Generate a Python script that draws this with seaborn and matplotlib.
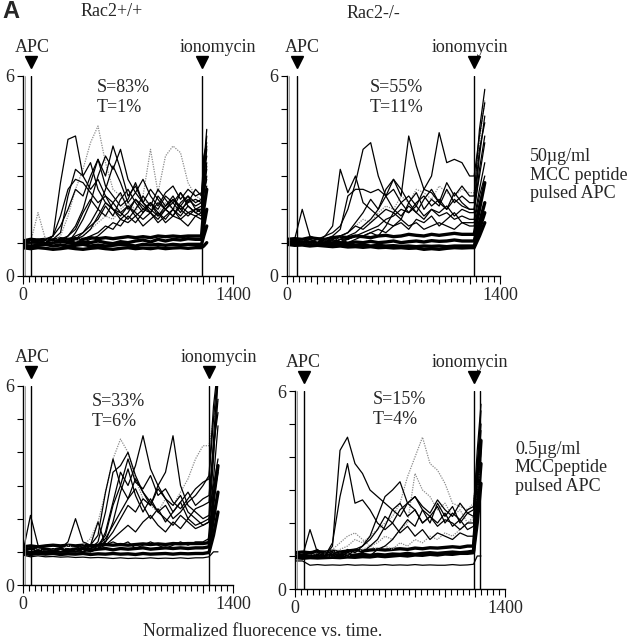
"""Calcium traces of Rac2+/+ and Rac2-/- T cells after APC contact."""

import pandas as pd
import matplotlib
matplotlib.use("Agg")
import matplotlib.pyplot as plt
import matplotlib.transforms as mtransforms
from matplotlib.ticker import MultipleLocator, FuncFormatter
import seaborn as sns

# ---- data: time grids (s) and ratio traces, one list per cell ----
TIME_WT_HIGH = [0, 50, 100, 150, 200, 250, 300, 350, 400, 450, 500, 550,
                600, 650, 700, 750, 800, 850, 900, 950, 1000, 1050, 1100,
                1150, 1190, 1205, 1225]
WT_HIGH_ACTIVE = [
  [1.0, 1.1, 1.0, 1.1, 1.2, 2.8, 4.1, 4.2, 3.0, 3.4, 2.6, 2.2, 2.0, 1.9, 2.1, 1.8, 2.0, 1.9, 2.2, 2.0, 1.8, 2.1, 1.9, 2.0, 2.0, 3.0, 3.6],
  [1.0, 1.0, 1.1, 1.0, 1.1, 1.3, 2.4, 3.2, 3.0, 2.6, 2.9, 2.4, 2.2, 2.5, 2.0, 2.3, 2.1, 1.9, 2.4, 2.1, 2.3, 2.0, 2.2, 2.3, 2.2, 3.3, 4.4],
  [1.0, 1.1, 1.0, 1.0, 1.1, 1.0, 1.2, 1.5, 2.0, 2.8, 3.5, 3.0, 3.9, 3.2, 2.4, 2.7, 2.2, 2.0, 1.8, 2.1, 2.4, 2.0, 1.8, 2.0, 1.9, 2.6, 3.2],
  [1.0, 1.0, 1.1, 1.0, 1.0, 1.1, 1.0, 1.3, 1.7, 2.2, 3.0, 3.6, 3.2, 3.8, 2.9, 2.5, 2.2, 2.6, 2.3, 2.0, 2.2, 2.5, 2.1, 1.9, 1.8, 2.4, 3.0],
  [1.0, 1.0, 1.0, 1.1, 1.2, 1.5, 2.0, 2.6, 2.4, 3.0, 3.5, 2.7, 2.4, 2.1, 2.3, 2.8, 2.2, 1.9, 1.7, 2.0, 1.8, 2.2, 2.4, 2.0, 2.1, 2.9, 3.8],
  [1.0, 1.0, 1.0, 1.0, 1.0, 1.1, 1.0, 1.1, 1.3, 1.6, 2.0, 1.8, 2.2, 1.9, 1.7, 2.0, 2.4, 2.1, 2.6, 2.3, 2.0, 2.5, 2.2, 2.6, 2.4, 3.6, 4.0],
  [1.0, 1.0, 1.0, 1.0, 1.0, 1.0, 1.1, 1.0, 1.1, 1.2, 1.3, 1.5, 1.4, 1.7, 1.6, 1.8, 1.5, 1.7, 1.9, 1.6, 1.8, 1.7, 1.5, 1.8, 1.7, 2.2, 2.7],
  [1.0, 1.0, 1.1, 1.0, 1.2, 1.8, 2.6, 2.9, 2.8, 2.5, 2.2, 2.4, 2.0, 1.8, 2.1, 1.9, 1.7, 1.9, 1.6, 1.8, 2.0, 1.7, 1.9, 1.8, 1.9, 2.5, 2.9],
  [1.0, 1.0, 1.0, 1.0, 1.0, 1.1, 1.2, 1.4, 1.9, 2.3, 2.0, 2.6, 3.3, 2.8, 2.2, 2.5, 2.9, 2.4, 2.1, 2.5, 2.7, 2.3, 2.6, 2.4, 2.5, 3.2, 4.2],
  [1.0, 1.1, 1.0, 1.0, 1.1, 1.0, 1.1, 1.2, 1.3, 1.5, 1.7, 2.1, 1.8, 2.3, 2.6, 2.2, 1.9, 2.2, 2.0, 2.4, 2.2, 1.9, 2.3, 2.1, 2.2, 2.8, 3.4],
  [1.0, 1.0, 1.0, 1.0, 1.0, 1.0, 1.0, 1.1, 1.2, 1.4, 1.8, 2.2, 2.0, 1.7, 1.9, 2.3, 2.0, 2.2, 1.8, 2.0, 2.3, 2.1, 2.4, 2.2, 2.3, 3.0, 3.9],
  [1.0, 1.0, 1.0, 1.0, 1.0, 1.0, 1.1, 1.0, 1.0, 1.1, 1.2, 1.4, 1.6, 1.5, 1.8, 1.6, 1.9, 2.2, 1.9, 1.7, 2.0, 1.8, 2.1, 1.9, 2.0, 2.6, 3.3],
]
WT_HIGH_FAINT = [
  [1.0, 1.0, 1.9, 1.1, 1.0, 1.2, 1.8, 2.6, 3.2, 4.0, 4.5, 3.4, 2.6, 2.4, 2.2, 2.0, 2.3, 2.1, 1.9, 2.2, 2.0, 2.1, 1.9, 2.0, 2.0, 2.5, 3.0],
  [1.0, 1.0, 1.0, 1.0, 1.0, 1.0, 1.1, 1.0, 1.2, 1.4, 1.6, 1.8, 1.7, 2.0, 2.2, 1.9, 2.4, 3.8, 2.5, 3.6, 3.9, 3.7, 2.8, 2.4, 2.3, 2.8, 3.2],
]
WT_HIGH_RESTING = [
  [1.0, 1.05, 1.0, 0.95, 1.0, 1.05, 1.0, 0.98, 1.02, 1.0, 1.05, 1.0, 0.97, 1.03, 1.0, 1.05, 1.08, 1.02, 1.1, 1.05, 1.1, 1.08, 1.12, 1.1, 1.1, 1.5, 2.0],
  [0.92, 0.9, 0.92, 0.95, 0.9, 0.93, 0.9, 0.92, 0.95, 0.9, 0.93, 0.9, 0.92, 0.95, 0.93, 0.9, 0.95, 0.93, 0.95, 0.92, 0.95, 0.93, 0.95, 0.95, 0.95, 1.2, 1.5],
  [1.05, 1.1, 1.08, 1.1, 1.08, 1.12, 1.1, 1.12, 1.1, 1.15, 1.12, 1.15, 1.12, 1.15, 1.18, 1.15, 1.18, 1.15, 1.2, 1.18, 1.2, 1.18, 1.2, 1.2, 1.2, 2.0, 2.6],
  [0.85, 0.82, 0.85, 0.83, 0.8, 0.82, 0.85, 0.82, 0.8, 0.83, 0.85, 0.82, 0.8, 0.83, 0.85, 0.82, 0.84, 0.82, 0.85, 0.82, 0.84, 0.85, 0.83, 0.85, 0.85, 0.9, 1.0],
]

TIME_KO_HIGH = [0, 50, 100, 150, 200, 250, 300, 350, 400, 450, 500, 550,
                600, 650, 700, 750, 800, 850, 900, 950, 1000, 1050, 1100,
                1150, 1200, 1230, 1265, 1300]
KO_HIGH_ACTIVE = [
  [1.0, 1.1, 2.0, 1.2, 1.1, 1.2, 1.5, 3.2, 2.5, 3.0, 2.2, 2.0, 1.8, 1.6, 1.5, 1.7, 1.5, 1.6, 1.4, 1.5, 1.6, 1.5, 1.4, 1.6, 1.5, 1.5, 2.2, 2.8],
  [1.0, 1.0, 1.0, 1.1, 1.0, 1.2, 1.3, 1.5, 2.0, 2.8, 3.8, 4.0, 3.0, 2.4, 2.6, 2.2, 1.9, 2.1, 1.8, 2.0, 1.9, 2.1, 1.8, 2.0, 1.9, 1.9, 3.2, 4.2],
  [1.0, 1.0, 1.1, 1.0, 1.0, 1.1, 1.0, 1.2, 1.3, 1.6, 1.9, 2.3, 2.0, 2.6, 2.9, 2.4, 4.2, 3.3, 2.6, 2.5, 2.2, 2.0, 2.3, 2.1, 2.0, 2.0, 3.6, 4.8],
  [1.0, 1.0, 1.0, 1.0, 1.1, 1.0, 1.1, 1.2, 1.3, 1.5, 1.4, 1.6, 1.8, 2.0, 1.9, 2.2, 2.4, 2.1, 2.6, 3.0, 4.3, 3.4, 3.5, 3.4, 3.0, 3.0, 4.2, 5.2],
  [1.0, 1.0, 1.0, 1.1, 1.0, 1.1, 1.2, 1.4, 2.4, 2.6, 2.6, 2.5, 2.6, 2.4, 2.0, 1.8, 2.1, 1.9, 1.7, 2.0, 1.8, 1.9, 1.7, 1.8, 1.7, 1.7, 2.6, 3.4],
  [1.0, 1.0, 1.0, 1.0, 1.0, 1.1, 1.0, 1.1, 1.2, 1.3, 1.5, 1.7, 2.0, 2.4, 2.9, 2.6, 2.2, 2.5, 2.0, 2.3, 2.1, 2.6, 2.2, 2.4, 2.2, 2.2, 3.8, 4.6],
  [1.0, 1.0, 1.0, 1.0, 1.0, 1.0, 1.1, 1.0, 1.1, 1.2, 1.3, 1.4, 1.5, 1.7, 1.8, 2.0, 1.9, 2.2, 2.4, 2.1, 2.3, 2.0, 2.5, 2.2, 2.0, 2.0, 3.0, 4.0],
  [1.0, 1.0, 1.0, 1.0, 1.0, 1.0, 1.0, 1.1, 1.1, 1.2, 1.2, 1.3, 1.4, 1.3, 1.5, 1.6, 1.4, 1.7, 1.6, 1.8, 1.5, 1.7, 1.9, 1.6, 1.6, 1.6, 2.4, 3.0],
  [1.0, 1.0, 1.0, 1.0, 1.0, 1.0, 1.0, 1.1, 1.0, 1.1, 1.2, 1.3, 1.2, 1.5, 1.9, 1.7, 2.2, 1.9, 2.3, 2.6, 2.2, 2.8, 2.4, 2.7, 2.4, 2.4, 4.4, 5.6],
]
KO_HIGH_FAINT = [
  [1.0, 1.0, 1.0, 1.0, 1.0, 1.1, 1.0, 1.2, 1.3, 1.5, 1.7, 1.6, 1.9, 2.1, 2.0, 2.4, 2.2, 2.6, 2.5, 2.3, 2.7, 2.5, 2.4, 2.6, 2.5, 2.5, 4.0, 5.3],
]
KO_HIGH_RESTING = [
  [1.0, 1.05, 1.0, 1.02, 0.98, 1.0, 1.03, 1.0, 0.98, 1.02, 1.0, 1.04, 1.0, 1.02, 1.05, 1.0, 1.03, 1.05, 1.02, 1.06, 1.04, 1.05, 1.08, 1.05, 1.05, 1.05, 1.6, 2.2],
  [0.95, 0.92, 0.93, 0.9, 0.92, 0.9, 0.88, 0.9, 0.87, 0.88, 0.86, 0.88, 0.85, 0.86, 0.84, 0.85, 0.83, 0.84, 0.8, 0.82, 0.8, 0.83, 0.85, 0.84, 0.85, 0.85, 1.2, 1.6],
  [1.1, 1.12, 1.1, 1.15, 1.12, 1.1, 1.15, 1.18, 1.15, 1.2, 1.18, 1.15, 1.2, 1.22, 1.18, 1.2, 1.25, 1.22, 1.2, 1.25, 1.22, 1.25, 1.28, 1.25, 1.25, 1.25, 2.0, 2.8],
  [0.98, 0.95, 0.97, 0.95, 0.96, 0.94, 0.95, 0.93, 0.94, 0.92, 0.93, 0.9, 0.92, 0.9, 0.91, 0.89, 0.9, 0.88, 0.9, 0.89, 0.9, 0.88, 0.9, 0.9, 0.9, 0.9, 1.4, 1.9],
]

TIME_WT_LOW = [0, 50, 100, 150, 200, 250, 300, 350, 400, 450, 500, 550,
               600, 650, 700, 750, 800, 850, 900, 950, 1000, 1050, 1100,
               1150, 1200, 1240, 1270, 1300]
WT_LOW_ACTIVE = [
  [1.0, 2.1, 1.2, 1.1, 1.0, 1.1, 1.3, 2.0, 1.3, 1.2, 1.9, 1.2, 1.3, 1.2, 1.3, 1.1, 1.2, 1.3, 1.2, 1.1, 1.2, 1.3, 1.2, 1.3, 1.3, 1.4, 2.6, 3.4],
  [1.0, 1.0, 1.0, 1.1, 1.0, 1.1, 1.0, 1.1, 1.0, 1.2, 1.1, 1.6, 2.5, 3.4, 3.0, 3.6, 4.5, 3.5, 3.0, 2.6, 2.4, 2.7, 2.2, 2.0, 1.8, 1.9, 3.8, 6.2],
  [1.0, 1.1, 1.0, 1.0, 1.1, 1.0, 1.0, 1.1, 1.0, 1.1, 1.2, 1.3, 1.6, 2.0, 2.4, 2.2, 2.6, 2.4, 3.0, 3.4, 4.5, 3.0, 2.4, 2.2, 2.0, 2.1, 4.4, 6.4],
  [1.0, 1.0, 1.0, 1.0, 1.0, 1.1, 1.0, 1.1, 1.2, 1.1, 1.3, 2.2, 3.4, 3.6, 4.0, 3.3, 2.8, 2.5, 2.2, 2.0, 1.8, 2.1, 1.9, 1.7, 1.8, 1.9, 3.2, 4.8],
  [1.0, 1.0, 1.0, 1.0, 1.0, 1.0, 1.1, 1.0, 1.1, 1.2, 1.5, 2.8, 3.8, 3.0, 2.6, 2.9, 2.4, 2.0, 2.3, 1.9, 2.2, 2.5, 2.0, 2.3, 2.4, 2.5, 4.0, 5.6],
  [1.0, 1.0, 1.0, 1.0, 1.0, 1.0, 1.0, 1.1, 1.0, 1.1, 1.2, 1.4, 1.8, 2.2, 2.6, 3.2, 2.8, 2.4, 2.9, 2.6, 2.2, 2.5, 2.8, 2.4, 2.6, 2.7, 4.2, 5.2],
  [1.0, 1.0, 1.0, 1.0, 1.0, 1.0, 1.0, 1.0, 1.1, 1.0, 1.1, 1.2, 1.4, 1.6, 1.8, 1.6, 1.9, 2.1, 1.8, 1.6, 1.9, 1.7, 2.0, 1.8, 1.9, 2.0, 3.0, 3.8],
  [1.0, 1.0, 1.0, 1.0, 1.0, 1.0, 1.0, 1.0, 1.0, 1.1, 1.2, 1.5, 2.4, 3.0, 3.8, 3.1, 2.9, 3.3, 2.7, 2.9, 2.5, 2.3, 2.6, 2.9, 3.1, 3.2, 5.0, 6.5],
  [1.0, 1.0, 1.0, 1.0, 1.0, 1.0, 1.0, 1.0, 1.0, 1.0, 1.1, 1.3, 1.9, 2.8, 3.5, 2.7, 2.2, 2.6, 2.2, 2.4, 2.0, 2.2, 2.5, 2.7, 3.0, 3.3, 5.4, 6.6],
]
WT_LOW_FAINT = [
  [1.0, 1.0, 1.1, 1.0, 1.1, 1.0, 1.2, 1.1, 1.2, 1.4, 1.9, 2.8, 3.8, 4.4, 4.0, 3.2, 2.6, 2.4, 2.2, 2.6, 2.4, 2.8, 3.2, 3.8, 4.2, 4.2, 5.0, 5.6],
]
WT_LOW_RESTING = [
  [1.05, 1.1, 1.05, 1.08, 1.05, 1.1, 1.05, 1.08, 1.1, 1.05, 1.08, 1.1, 1.06, 1.1, 1.08, 1.1, 1.12, 1.08, 1.1, 1.12, 1.1, 1.12, 1.1, 1.12, 1.12, 1.15, 2.0, 2.8],
  [0.95, 0.92, 0.95, 0.93, 0.95, 0.92, 0.94, 0.93, 0.95, 0.92, 0.94, 0.93, 0.95, 0.93, 0.94, 0.92, 0.95, 0.93, 0.94, 0.95, 0.93, 0.95, 0.94, 0.95, 0.95, 0.98, 1.5, 2.2],
  [1.15, 1.18, 1.15, 1.18, 1.2, 1.18, 1.2, 1.18, 1.2, 1.18, 1.2, 1.22, 1.2, 1.22, 1.2, 1.22, 1.24, 1.22, 1.24, 1.22, 1.25, 1.24, 1.25, 1.25, 1.25, 1.28, 2.6, 3.6],
]
WT_LOW_LOW = [
  [0.9, 0.85, 0.88, 0.85, 0.86, 0.84, 0.85, 0.83, 0.84, 0.82, 0.83, 0.82, 0.8, 0.82, 0.8, 0.81, 0.8, 0.82, 0.8, 0.81, 0.8, 0.82, 0.8, 0.82, 0.82, 0.85, 1.0, 1.0],
]

TIME_KO_LOW = [0, 50, 100, 150, 200, 250, 300, 350, 400, 450, 500, 550,
               600, 650, 700, 750, 800, 850, 900, 950, 1000, 1050, 1100,
               1150, 1190, 1215, 1240]
KO_LOW_ACTIVE = [
  [1.0, 1.0, 1.1, 1.2, 1.0, 1.3, 4.2, 4.6, 3.8, 3.5, 3.0, 2.8, 2.6, 2.4, 2.6, 2.2, 2.4, 2.0, 2.2, 1.9, 2.1, 2.0, 1.8, 2.0, 2.0, 3.6, 5.0],
  [1.0, 1.0, 1.8, 1.1, 1.0, 1.4, 2.8, 3.8, 2.6, 2.7, 2.4, 2.0, 1.8, 2.0, 1.7, 1.9, 1.6, 1.8, 1.5, 1.7, 1.6, 1.5, 1.7, 1.6, 1.6, 2.8, 4.2],
  [1.0, 1.0, 1.0, 1.0, 1.0, 1.1, 1.0, 1.2, 1.1, 1.3, 1.6, 2.2, 2.8, 3.0, 3.25, 2.6, 2.4, 2.0, 2.2, 2.5, 2.0, 2.3, 2.1, 2.4, 2.5, 3.8, 5.4],
  [1.0, 1.0, 1.0, 1.0, 1.1, 1.0, 1.1, 1.0, 1.2, 1.1, 1.3, 1.5, 1.9, 2.4, 2.2, 2.6, 2.8, 2.5, 2.3, 2.7, 2.4, 2.2, 2.6, 2.3, 2.2, 3.4, 4.8],
  [1.0, 1.0, 1.0, 1.0, 1.0, 1.0, 1.0, 1.1, 1.0, 1.1, 1.0, 1.2, 1.3, 1.5, 1.8, 2.1, 1.9, 2.4, 2.0, 2.6, 2.2, 2.5, 2.0, 2.3, 2.4, 4.2, 5.6],
  [1.0, 1.0, 1.0, 1.0, 1.0, 1.1, 1.0, 1.1, 1.2, 1.3, 1.5, 1.8, 2.2, 2.0, 2.4, 2.6, 2.8, 2.4, 2.2, 2.0, 2.3, 1.9, 2.1, 1.8, 1.9, 3.2, 4.4],
]
KO_LOW_FAINT = [
  [1.0, 1.0, 1.0, 1.1, 1.0, 1.1, 1.2, 1.3, 1.5, 1.4, 1.6, 1.8, 2.0, 2.2, 2.6, 3.4, 4.0, 4.6, 3.8, 3.6, 3.2, 2.6, 2.5, 2.4, 2.6, 3.8, 4.6],
  [1.0, 1.0, 1.0, 1.0, 1.0, 1.0, 1.1, 1.0, 1.1, 1.2, 1.3, 1.4, 1.6, 1.5, 1.8, 2.0, 3.5, 3.0, 2.8, 2.4, 2.6, 2.2, 2.4, 2.0, 2.2, 3.0, 4.0],
  [1.0, 1.0, 1.0, 1.0, 1.1, 1.2, 1.4, 1.6, 1.7, 1.5, 1.3, 1.2, 1.3, 1.2, 1.4, 1.3, 1.5, 1.4, 1.6, 1.5, 1.7, 1.6, 1.8, 2.0, 2.1, 3.0, 4.0],
]
KO_LOW_RESTING = [
  [1.0, 1.02, 1.0, 1.03, 1.0, 1.02, 1.04, 1.0, 1.03, 1.05, 1.02, 1.05, 1.03, 1.06, 1.05, 1.08, 1.05, 1.08, 1.1, 1.08, 1.1, 1.12, 1.1, 1.12, 1.15, 2.4, 3.8],
  [0.95, 0.93, 0.95, 0.94, 0.95, 0.96, 0.95, 0.97, 0.96, 0.98, 0.97, 1.0, 0.98, 1.0, 1.02, 1.0, 1.03, 1.02, 1.05, 1.03, 1.06, 1.05, 1.08, 1.08, 1.1, 2.0, 3.2],
  [1.1, 1.12, 1.1, 1.13, 1.12, 1.15, 1.12, 1.15, 1.18, 1.15, 1.18, 1.2, 1.18, 1.2, 1.22, 1.2, 1.24, 1.22, 1.25, 1.24, 1.26, 1.28, 1.26, 1.3, 1.3, 2.8, 4.5],
]
KO_LOW_LOW = [
  [0.85, 0.85, 0.72, 0.74, 0.72, 0.73, 0.72, 0.74, 0.72, 0.73, 0.72, 0.72, 0.74, 0.72, 0.73, 0.72, 0.74, 0.72, 0.73, 0.72, 0.72, 0.74, 0.72, 0.73, 0.75, 1.0, 1.0],
]

STATS = [("S=83%", "T=1%"), ("S=55%", "T=11%"), ("S=33%", "T=6%"), ("S=15%", "T=4%")]
APC_TIME = [50, 65, 50, 62]
IONO_TIME = [[1190], [1230], [1240], [1193, 1233]]
GENOTYPES = ["Rac2+/+", "Rac2-/-"]
DOSES = ["50\u00b5g/ml\nMCC peptide\npulsed APC", "0.5\u00b5g/ml\nMCCpeptide\npulsed APC"]

W, H = 627, 640
FS = 13


def to_frame(time: list, traces: list) -> pd.DataFrame:
  """Long table of traces for seaborn."""
  parts = [
    pd.DataFrame({"time": time, "ratio": values, "cell": cell})
    for cell, values in enumerate(traces)
  ]
  return pd.concat(parts, ignore_index=True)


def fig_xy(x: float, y: float) -> tuple:
  """Pixel position to figure fraction."""
  return x / W, 1 - y / H


def only_ends(value: float, _) -> str:
  return f"{value:.0f}" if value in (0, 1400) else ""


def draw_panel(ax, time, active, faint, resting, low, apc, iono, label_x):
  """One calcium panel."""
  line_kw = dict(x="time", y="ratio", units="cell", estimator=None,
                 ax=ax, legend=False)
  sns.lineplot(data=to_frame(time, resting), color="black", linewidth=2.4, **line_kw)
  if low:
    sns.lineplot(data=to_frame(time, low), color="black", linewidth=0.9, **line_kw)
  sns.lineplot(data=to_frame(time, faint), color="0.55", linewidth=0.9,
               linestyle=(0, (1, 1)), **line_kw)
  sns.lineplot(data=to_frame(time, active), color="black", linewidth=0.9, **line_kw)

  ax.set_xlim(0, 1400)
  ax.set_ylim(0, 6)
  ax.set_xlabel("")
  ax.set_ylabel("")
  sns.despine(ax=ax)
  for side in ("left", "bottom"):
    ax.spines[side].set_linewidth(1.0)
    ax.spines[side].set_color("black")

  ax.axvline(10, color="0.55", linewidth=0.6)
  ax.axvline(apc, color="black", linewidth=1.0)
  for t in iono:
    ax.axvline(t, color="black", linewidth=1.0)

  ax.xaxis.set_major_locator(MultipleLocator(200))
  ax.xaxis.set_minor_locator(MultipleLocator(40))
  ax.xaxis.set_major_formatter(FuncFormatter(only_ends))
  ax.set_yticks(range(7))
  ax.set_yticklabels(["0", "", "", "", "", "", "6"])
  ax.tick_params(axis="x", which="major", direction="out", length=6, width=0.8,
                 labelsize=FS, pad=2, color="black")
  ax.tick_params(axis="x", which="minor", direction="out", length=4, width=0.8,
                 color="black")
  ax.tick_params(axis="y", direction="out", length=4, width=0.8, labelsize=FS,
                 pad=2, color="black")

  # event markers above the axes
  trans = mtransforms.blended_transform_factory(ax.transData, ax.transAxes)
  for t in (apc, iono[0]):
    ax.plot([t], [1.07], marker="v", markersize=9, color="black",
            transform=trans, clip_on=False)
  ax.text(label_x[0], 1.145, "APC", transform=trans, ha="center", va="center",
          fontsize=FS)
  ax.text(label_x[1], 1.145, "ionomycin", transform=trans, ha="center",
          va="center", fontsize=FS)


def main() -> None:
  sns.set_style("ticks")
  plt.rcParams["font.family"] = ["Liberation Serif", "DejaVu Serif"]

  fig = plt.figure(figsize=(W / 100, H / 100), dpi=100)
  boxes = [(23, 76, 210, 200), (287, 76, 213, 200),
           (23, 386, 210, 199), (295, 391, 210, 198)]
  axes = [fig.add_axes([x / W, 1 - (y + h) / H, w / W, h / H])
          for x, y, w, h in boxes]

  panels = [
    (TIME_WT_HIGH, WT_HIGH_ACTIVE, WT_HIGH_FAINT, WT_HIGH_RESTING, []),
    (TIME_KO_HIGH, KO_HIGH_ACTIVE, KO_HIGH_FAINT, KO_HIGH_RESTING, []),
    (TIME_WT_LOW, WT_LOW_ACTIVE, WT_LOW_FAINT, WT_LOW_RESTING, WT_LOW_LOW),
    (TIME_KO_LOW, KO_LOW_ACTIVE, KO_LOW_FAINT, KO_LOW_RESTING, KO_LOW_LOW),
  ]
  label_xs = [(60, 1300), (99, 1203), (60, 1307), (53, 1167)]
  for i, (ax, data) in enumerate(zip(axes, panels)):
    draw_panel(ax, *data, APC_TIME[i], IONO_TIME[i], label_xs[i])

  # S / T annotations
  stat_pos = [(97, 88), (370, 88), (92, 402), (373, 400)]
  for (s, t), (x, y) in zip(STATS, stat_pos):
    fig.text(*fig_xy(x, y), s, fontsize=FS, va="center")
    fig.text(*fig_xy(x, y + 20), t, fontsize=FS, va="center")

  fig.text(*fig_xy(2, 11), "A", fontsize=17, fontweight="bold",
           family="Liberation Sans", va="center")
  fig.text(*fig_xy(112, 12), GENOTYPES[0], fontsize=FS, ha="center", va="center")
  fig.text(*fig_xy(373, 14), GENOTYPES[1], fontsize=FS, ha="center", va="center")
  fig.text(*fig_xy(530, 175), DOSES[0], fontsize=FS, va="center",
           linespacing=1.1)
  fig.text(*fig_xy(515, 468), DOSES[1], fontsize=FS, va="center",
           linespacing=1.1)
  fig.text(*fig_xy(263, 632), "Normalized fluorecence vs. time.",
           fontsize=FS, ha="center", va="center")

  fig.savefig("out.png", dpi=100, facecolor="white")


if __name__ == "__main__":
  main()
